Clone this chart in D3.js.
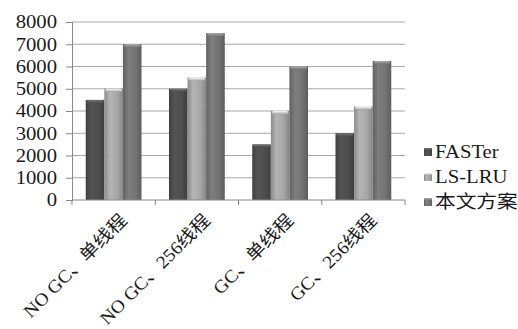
<!DOCTYPE html>
<html>
<head>
<meta charset="utf-8">
<script src="https://cdn.jsdelivr.net/npm/d3@7/dist/d3.min.js"></script>
<style>
  html, body { margin: 0; padding: 0; background: #fff; }
  svg text { font-family: "Liberation Serif", "Times New Roman", "Noto Sans CJK SC", serif; fill: #1a1a1a; }
</style>
</head>
<body>
<svg id="chart" width="518" height="329"></svg>
<script>
// Throughput of three caching schemes under four workloads
const categories = ["NO GC、单线程", "NO GC、256线程", "GC、单线程", "GC、256线程"];
const seriesNames = ["FASTer", "LS-LRU", "本文方案"];
const faster = [4500, 5000, 2500, 3000];
const lsLru = [5000, 5500, 4000, 4200];
const ours = [7000, 7500, 6000, 6250];
const yTicks = [0, 1000, 2000, 3000, 4000, 5000, 6000, 7000, 8000];

const seriesValues = [faster, lsLru, ours];
const baseColors = ["#4d4d4d", "#a6a6a6", "#737373"];
const stretch = 1.15; // wide-set lettering

const svg = d3.select("#chart");
const plotLeft = 72, plotRight = 405, plotTop = 22, plotBottom = 200;

const x = d3.scaleBand().domain(categories).range([plotLeft, plotRight]).paddingInner(0.33).paddingOuter(0.165);
const xs = d3.scaleBand().domain(seriesNames).range([0, x.bandwidth()]);
const y = d3.scaleLinear().domain([0, 8000]).range([plotBottom, plotTop]);

// gradients for the shaded bar faces
const defs = svg.append("defs");
baseColors.forEach((c, i) => {
  const g = defs.append("linearGradient").attr("id", "g" + i).attr("x1", 0).attr("x2", 1).attr("y1", 0).attr("y2", 0);
  const base = d3.color(c);
  g.append("stop").attr("offset", "0%").attr("stop-color", base.darker(0.5));
  g.append("stop").attr("offset", "30%").attr("stop-color", base.brighter(0.25));
  g.append("stop").attr("offset", "70%").attr("stop-color", base);
  g.append("stop").attr("offset", "100%").attr("stop-color", base.darker(0.6));
  const cap = defs.append("linearGradient").attr("id", "c" + i).attr("x1", 0).attr("x2", 0).attr("y1", 0).attr("y2", 1);
  cap.append("stop").attr("offset", "0%").attr("stop-color", base.brighter(1.2));
  cap.append("stop").attr("offset", "100%").attr("stop-color", base);
});

// horizontal gridlines
svg.append("g").selectAll("line").data(yTicks.filter(d => d > 0)).join("line")
  .attr("x1", plotLeft).attr("x2", plotRight)
  .attr("y1", d => y(d)).attr("y2", d => y(d))
  .attr("stroke", "#a8a8a8").attr("stroke-width", 1);

// y axis: line and ticks from d3, labels drawn wide
const yAxis = svg.append("g").attr("transform", `translate(${plotLeft},0)`)
  .call(d3.axisLeft(y).tickValues(yTicks).tickSize(6).tickFormat(""));
yAxis.select(".domain").attr("stroke", "#888");
yAxis.selectAll(".tick line").attr("stroke", "#888");
svg.append("g").selectAll("text").data(yTicks).join("text")
  .attr("transform", d => `translate(${plotLeft - 15},${y(d)}) scale(${stretch},1)`)
  .attr("text-anchor", "end")
  .attr("dy", "0.35em")
  .attr("font-size", 18)
  .text(d3.format("d"));

// bars
const groups = svg.append("g").selectAll("g").data(seriesNames).join("g");
groups.each(function (name, si) {
  const g = d3.select(this);
  const vals = seriesValues[si];
  g.selectAll("rect.face").data(vals).join("rect").attr("class", "face")
    .attr("x", (d, i) => x(categories[i]) + xs(name))
    .attr("width", xs.bandwidth())
    .attr("y", d => y(d))
    .attr("height", d => plotBottom - y(d))
    .attr("fill", `url(#g${si})`);
  g.selectAll("rect.cap").data(vals).join("rect").attr("class", "cap")
    .attr("x", (d, i) => x(categories[i]) + xs(name) + 1)
    .attr("width", xs.bandwidth() - 2)
    .attr("y", d => y(d))
    .attr("height", 3)
    .attr("rx", 2)
    .attr("fill", `url(#c${si})`);
});

// x axis
const xAxis = svg.append("g").attr("transform", `translate(0,${plotBottom})`);
xAxis.append("line").attr("x1", plotLeft).attr("x2", plotRight).attr("y1", 0).attr("y2", 0).attr("stroke", "#888");
const bounds = categories.map(c => x(c) - x.step() * x.paddingInner() / 2).concat([plotRight]);
xAxis.selectAll("line.tk").data(bounds).join("line").attr("class", "tk")
  .attr("x1", d => d).attr("x2", d => d).attr("y1", 0).attr("y2", 5).attr("stroke", "#888");
xAxis.selectAll("text").data(categories).join("text")
  .attr("transform", d => `translate(${x(d) + x.bandwidth() / 2 + 10},${17}) rotate(-45) scale(1.08,1)`)
  .attr("text-anchor", "end")
  .attr("dy", "0.35em")
  .attr("font-size", 18)
  .text(d => d);

// legend
const legend = svg.append("g").attr("transform", "translate(424,152)");
seriesNames.forEach((name, i) => {
  const row = legend.append("g").attr("transform", `translate(0,${i * 25})`);
  row.append("rect").attr("x", 0).attr("y", -4).attr("width", 8).attr("height", 8).attr("fill", `url(#g${i})`);
  row.append("rect").attr("x", 0).attr("y", -4).attr("width", 8).attr("height", 2).attr("fill", `url(#c${i})`);
  row.append("text").attr("transform", `translate(11,0) scale(${stretch},1)`)
    .attr("dy", "0.35em").attr("font-size", 18).text(name);
});
</script>
</body>
</html>
